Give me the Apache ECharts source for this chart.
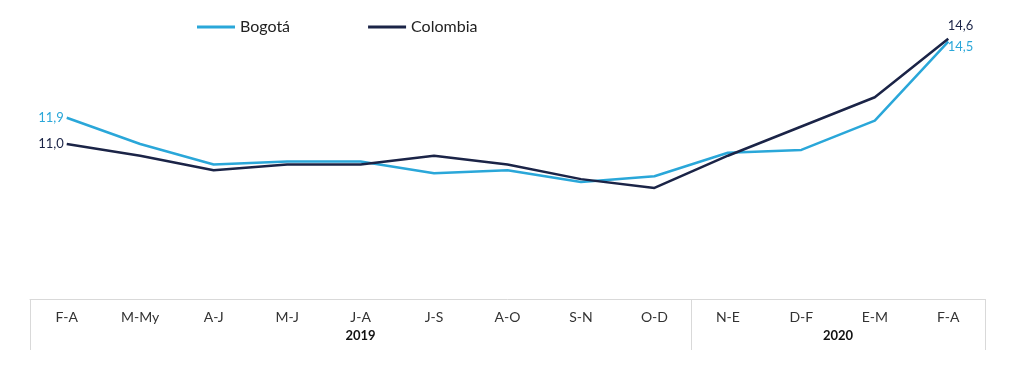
<!DOCTYPE html>
<html><head><meta charset="utf-8">
<script src="https://cdn.jsdelivr.net/npm/echarts@6/dist/echarts.min.js"></script>
<style>html,body{margin:0;padding:0;background:#fff}#c{width:1024px;height:373px}</style>
</head><body><div id="c"></div>
<script>
const categories = ['F-A','M-My','A-J','M-J','J-A','J-S','A-O','S-N','O-D','N-E','D-F','E-M','F-A'];
const bogota   = [11.9, 11.0, 10.3, 10.4, 10.4, 10.0, 10.1, 9.7, 9.9, 10.7, 10.8, 11.8, 14.5];
const colombia = [11.0, 10.6, 10.1, 10.3, 10.3, 10.6, 10.3, 9.8, 9.5, 10.6, 11.6, 12.6, 14.6];
const years = ['2019', '2020'];
const yearBounds = [0, 9, 13];
const yearCenters = [4.5, 11];

const fmt = p => String(p.value.toFixed(1)).replace('.', ',');
const last = categories.length - 1;
const FONT = 'Lato, "Open Sans", sans-serif';

function endLabels(color) {
  return {
    show: true, fontFamily: FONT, fontSize: 13, color: color,
    position: 'left', distance: 3,
    formatter: p => (p.dataIndex === 0 || p.dataIndex === last) ? fmt(p) : '',
  };
}

const chart = echarts.init(document.getElementById('c'), null, {renderer: 'canvas'});
chart.setOption({
  animation: false,
  backgroundColor: '#fff',
  legend: {
    top: 14, left: 192, itemWidth: 38, itemHeight: 3, itemGap: 78,
    icon: 'rect',
    textStyle: {fontFamily: FONT, fontSize: 16, color: '#222'},
    data: ['Bogotá', 'Colombia']
  },
  grid: {left: 30, right: 39, top: 30, bottom: 74},
  xAxis: [{
    type: 'category', data: categories, boundaryGap: true, position: 'bottom',
    axisLine: {show: true, lineStyle: {color: '#d9d9d9', width: 1}},
    axisTick: {show: false},
    axisLabel: {fontFamily: FONT, fontSize: 14, color: '#333', margin: 11}
  }, {
    type: 'value', min: 0, max: 13, position: 'bottom',
    axisLine: {show: false},
    splitLine: {show: false},
    axisTick: {show: true, customValues: yearBounds, length: 51, lineStyle: {color: '#d9d9d9', width: 1}},
    axisLabel: {
      show: true, customValues: yearCenters, margin: 30,
      fontFamily: FONT, fontSize: 13, fontWeight: 'bold', color: '#111',
      formatter: v => years[yearCenters.indexOf(v)]
    }
  }],
  yAxis: {type: 'value', min: 5.7, max: 14.9, show: false, splitLine: {show: false}},
  series: [{
    name: 'Bogotá', type: 'line', data: bogota, xAxisIndex: 0,
    symbol: 'circle', symbolSize: 0.01, showSymbol: true,
    lineStyle: {color: '#2aa7d9', width: 2.5}, itemStyle: {color: '#2aa7d9'},
    label: endLabels('#2aa7d9'),
    labelLayout: p => p.dataIndex === last ? {dx: 28, dy: 5} : {}
  }, {
    name: 'Colombia', type: 'line', data: colombia, xAxisIndex: 0,
    symbol: 'circle', symbolSize: 0.01, showSymbol: true,
    lineStyle: {color: '#1b2447', width: 2.5}, itemStyle: {color: '#1b2447'},
    label: endLabels('#1b2447'),
    labelLayout: p => p.dataIndex === last ? {dx: 28, dy: -13} : {}
  }]
});
</script></body></html>
